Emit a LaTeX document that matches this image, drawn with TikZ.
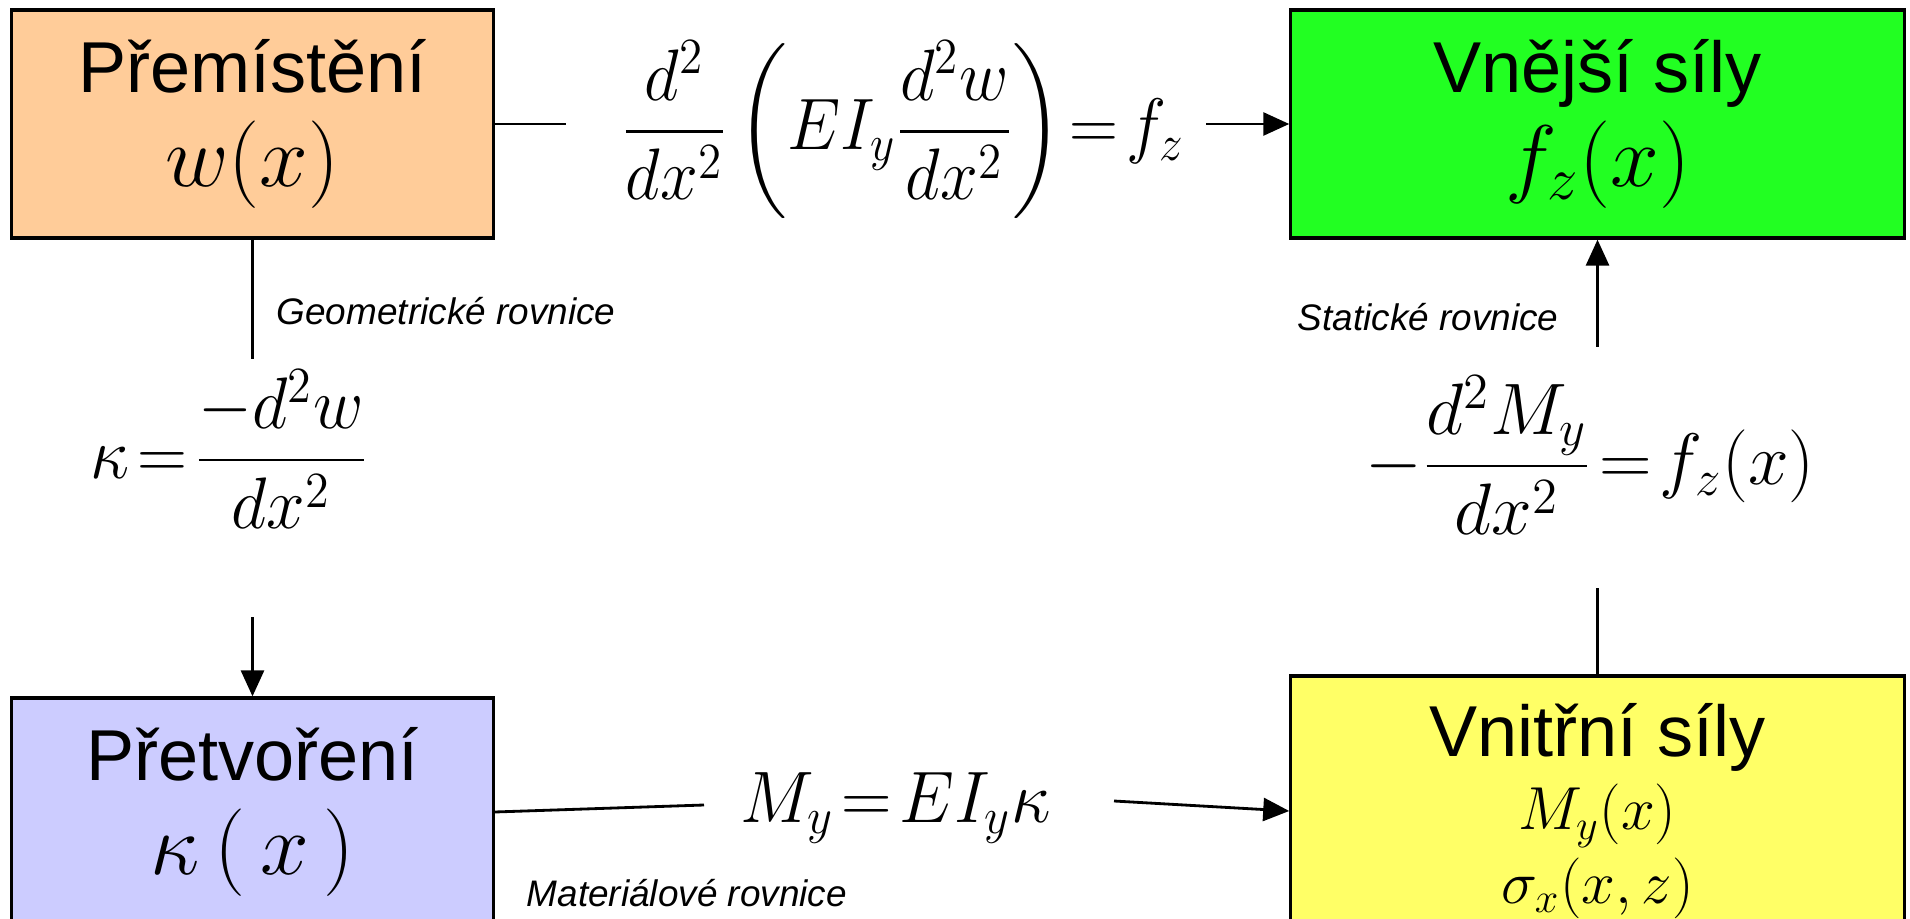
\documentclass[tikz,border=0pt]{standalone}
\usepackage{amsmath}
\usepackage{graphicx}
\usepackage[no-math]{fontspec}
\setmainfont{Liberation Sans}
\usetikzlibrary{arrows.meta}

\definecolor{dispfill}{HTML}{FFCC99}
\definecolor{loadfill}{HTML}{22FF22}
\definecolor{strainfill}{HTML}{CCCCFF}
\definecolor{innerfill}{HTML}{FFFF66}
\newcommand{\eqsize}[1]{\fontsize{#1}{#1}\selectfont}
\newcommand{\tighteq}{\mathrel{\!=\!}}

\tikzset{
  box/.style={draw, line width=0.9pt, inner sep=0pt, align=center,
    minimum height=2.28cm, font=\fontsize{20.5}{26.7}\selectfont},
  eq/.style={inner sep=0pt},
  link/.style={line width=0.8pt},
  flow/.style={link, -{Triangle[length=0.26cm, width=0.23cm]}},
  note/.style={inner sep=0pt, anchor=west, font=\fontsize{10.5}{12}\selectfont\itshape}
}

\begin{document}
\begin{tikzpicture}[x=0.01cm, y=-0.01cm]
\useasboundingbox (0,0) rectangle (1910,919);
\clip (0,0) rectangle (1910,919);

% the four boxes
\node[box, fill=dispfill, minimum width=4.81cm] (disp) at (252.5,124)
{Přemístění\\ {\eqsize{24}$w(x)$}};
\node[box, fill=loadfill, minimum width=6.13cm] (ext) at (1597.5,124)
{Vnější síly\\ {\eqsize{24}$f_z(x)$}};
\node[box, fill=strainfill, minimum width=4.81cm] (strain) at (252.5,812)
{Přetvoření\\ {\eqsize{24}$\kappa\,(\,x\,)$}};
\node[box, fill=innerfill, minimum width=6.13cm, minimum height=2.7cm,
  font=\fontsize{20.5}{21}\selectfont] (inner) at (1597.5,811)
{Vnitřní síly\\ {\eqsize{17}$M_y(x)$}\\ {\eqsize{17}$\sigma_x(x,z)$}};

% equations
\node[eq, font=\eqsize{20.5}] (bendeq) at (903,130)
{\scalebox{0.93}[1]{$\displaystyle \frac{d^2}{dx^2}\left(EI_y\frac{d^2w}{dx^2}\right)\tighteq f_z$}};
\node[eq, font=\eqsize{22}] (curveq) at (229,449)
{\scalebox{0.95}[1]{$\displaystyle \kappa\tighteq\frac{-d^2w}{dx^2}$}};
\node[eq, font=\eqsize{22}] (staticeq) at (1590,455)
{$\displaystyle -\frac{d^2M_y}{dx^2}\tighteq f_z(x)$};
\node[eq, font=\eqsize{20}] (mateq) at (896,808)
{\scalebox{0.96}[1]{$M_y\tighteq EI_y\kappa$}};

% equation names
\node[note] (geonote) at (276,311) {Geometrické rovnice};
\node[note] (statnote) at (1297,317) {Statické rovnice};
\node[note] (matnote) at (526,893) {Materiálové rovnice};

% free ends of the connectors
\coordinate (bendL) at (566,124);
\coordinate (bendR) at (1206,124);
\coordinate (geoA) at (252.5,359);
\coordinate (geoB) at (252.5,617);
\coordinate (matL) at (704,805);
\coordinate (matR) at (1114,801);
\coordinate (statA) at (1597.5,588);
\coordinate (statB) at (1597.5,347);

\draw[link] (disp.east) -- (bendL);
\draw[flow] (bendR) -- (ext.west);
\draw[link] (disp.south) -- (geoA);
\draw[flow] (geoB) -- (strain.north);
\draw[link] (strain.east) -- (matL);
\draw[flow] (matR) -- (inner.west);
\draw[link] (inner.north) -- (statA);
\draw[flow] (statB) -- (ext.south);
\end{tikzpicture}
\end{document}
